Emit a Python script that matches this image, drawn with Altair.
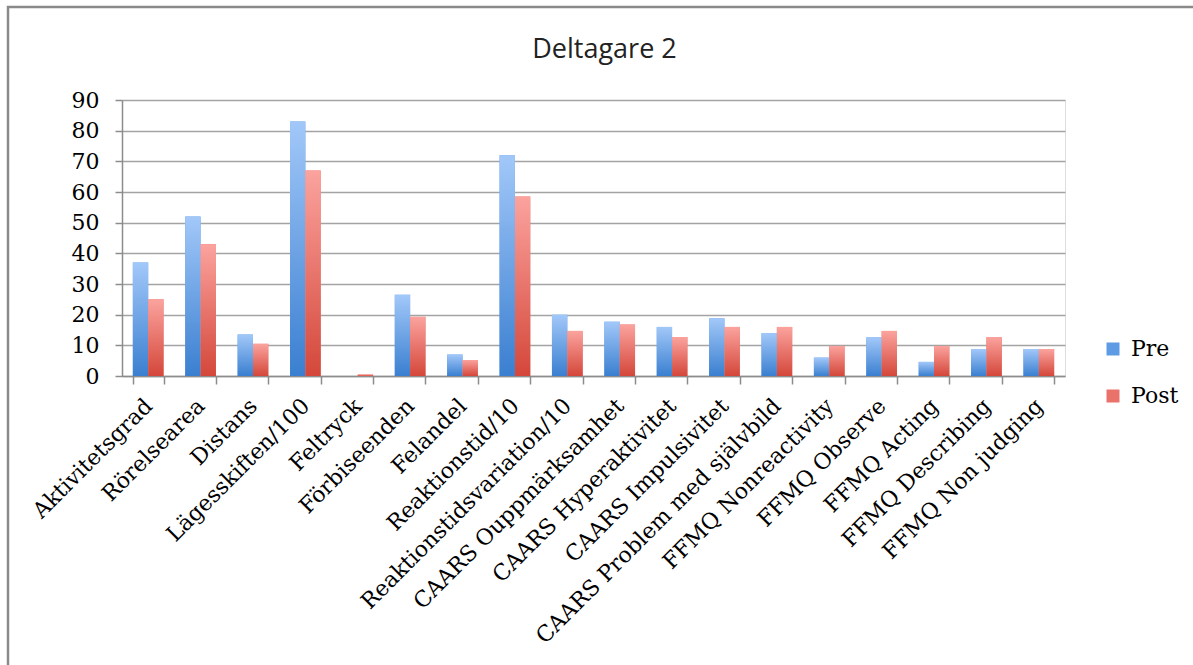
import altair as alt
import pandas as pd

categories = [
    "Aktivitetsgrad", "Rörelsearea", "Distans", "Lägesskiften/100", "Feltryck",
    "Förbiseenden", "Felandel", "Reaktionstid/10", "Reaktionstidsvariation/10",
    "CAARS Ouppmärksamhet", "CAARS Hyperaktivitet", "CAARS Impulsivitet",
    "CAARS Problem med självbild", "FFMQ Nonreactivity", "FFMQ Observe",
    "FFMQ Acting", "FFMQ Describing", "FFMQ Non judging",
]
pre_values = [37, 52, 13.5, 83, 0, 26.5, 7, 72, 20, 17.7, 16, 18.8, 14, 6, 12.6, 4.6, 8.8, 8.8]
post_values = [25, 43, 10.5, 67, 0.5, 19.3, 5.2, 58.5, 14.7, 16.8, 12.7, 16, 16, 9.8, 14.7, 9.8, 12.7, 8.8]
series = ["Pre", "Post"]
y_ticks = [0, 10, 20, 30, 40, 50, 60, 70, 80, 90]

rows = []
for c, p, q in zip(categories, pre_values, post_values):
    rows.append({"Category": c, "Series": "Pre", "Value": p})
    rows.append({"Category": c, "Series": "Post", "Value": q})
df = pd.DataFrame(rows)

serif = "DejaVu Serif"

x_enc = alt.X(
    "Category:N", sort=categories, title=None,
    scale=alt.Scale(paddingInner=0.414, paddingOuter=0.207),
    axis=alt.Axis(
        labelAngle=315, labelAlign="right", labelBaseline="middle",
        labelFont=serif, labelFontSize=22, labelColor="#000",
        labelPadding=18, tickBand="extent", tickSize=8,
        tickColor="#8c8c8c", domainColor="#8c8c8c", domainWidth=1.5,
        tickWidth=1.5, grid=False, labelLimit=450,
    ),
)
xoff_enc = alt.XOffset("Series:N", sort=series,
                       scale=alt.Scale(domain=series, paddingInner=0, paddingOuter=0))
y_enc = alt.Y(
    "Value:Q", title=None,
    scale=alt.Scale(domain=[0, 90], nice=False),
    axis=alt.Axis(
        values=y_ticks, labelFont=serif, labelFontSize=22, labelColor="#000",
        labelPadding=16, tickSize=7, tickColor="#8c8c8c", tickWidth=1.5,
        domainColor="#8c8c8c", domainWidth=1.5,
        grid=True, gridColor="#a3a3a3", gridWidth=1.5,
    ),
)

base = alt.Chart(df).encode(x=x_enc, xOffset=xoff_enc, y=y_enc)

legend_layer = base.mark_bar().encode(
    color=alt.Color(
        "Series:N", sort=series,
        scale=alt.Scale(domain=series, range=["#5f9be4", "#e9726b"]),
        legend=alt.Legend(
            title=None, orient="none", legendX=980, legendY=238,
            labelFont=serif, labelFontSize=22, labelColor="#000",
            symbolType="square", symbolSize=169, symbolStrokeWidth=0,
            rowPadding=25, labelOffset=7,
        ),
    )
)

pre_grad = alt.Gradient(
    gradient="linear",
    stops=[alt.GradientStop(color="#a2c8f9", offset=0),
           alt.GradientStop(color="#3a7fd0", offset=1)],
    x1=0, x2=0, y1=0, y2=1,
)
post_grad = alt.Gradient(
    gradient="linear",
    stops=[alt.GradientStop(color="#fba39e", offset=0),
           alt.GradientStop(color="#d4473a", offset=1)],
    x1=0, x2=0, y1=0, y2=1,
)

pre_layer = base.mark_bar(fill=pre_grad).transform_filter(alt.datum.Series == "Pre")
post_layer = base.mark_bar(fill=post_grad).transform_filter(alt.datum.Series == "Post")

frame = alt.Chart(alt.Data(values=[{}])).mark_rect(
    fill=None, stroke="#8a8a8a", strokeWidth=2.5, clip=False
).encode(
    x=alt.value(-114), x2=alt.value(1200),
    y=alt.value(-93), y2=alt.value(700),
)

chart = alt.layer(frame, legend_layer, pre_layer, post_layer).properties(
    width=943, height=276,
    autosize="none",
    padding={"left": 122, "top": 100, "right": 128, "bottom": 289},
    title=alt.TitleParams(
        "Deltagare 2", font="Open Sans", fontSize=27, fontWeight="normal",
        color="#222", anchor="middle", frame="group", offset=-79,
        baseline="alphabetic", dx=11,
    ),
).configure_view(stroke=None).configure(background="white")

chart.save("out.html", embed_options={"renderer": "svg", "actions": False})
